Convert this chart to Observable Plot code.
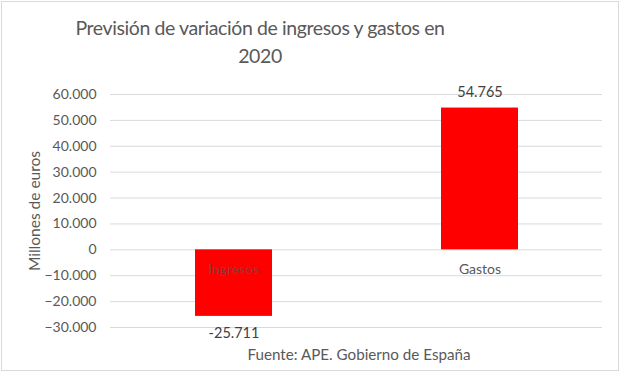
<!DOCTYPE html>
<html>
<head>
<meta charset="utf-8">
<script src="https://cdn.jsdelivr.net/npm/d3@7"></script>
<script src="https://cdn.jsdelivr.net/npm/@observablehq/plot@0.6"></script>
<style>
  html, body { margin: 0; padding: 0; background: #fff; }
  #frame { position: relative; width: 624px; height: 374px; overflow: hidden; background: #fff; }
  #border { position: absolute; left: 1px; top: 1px; width: 618px; height: 370px; border: 1px solid #d9d9d9; box-sizing: border-box; }
  #title { position: absolute; left: 60px; width: 400px; top: 14px; text-align: center; font-family: Lato, "Open Sans", sans-serif; font-size: 19.5px; letter-spacing: -0.4px; line-height: 28px; color: #595959; }
  #chart { position: absolute; left: 0; top: 75px; }
  #caption { position: absolute; left: 0; width: 718px; top: 345px; text-align: center; font-family: Lato, "Open Sans", sans-serif; font-size: 15.2px; line-height: 18px; color: #595959; }
</style>
</head>
<body>
<div id="frame">
  <div id="border"></div>
  <div id="title">Previsión de variación de ingresos y gastos en<br>2020</div>
  <div id="chart"></div>
  <div id="caption">Fuente: APE. Gobierno de España</div>
</div>
<script>
const categories = ["Ingresos", "Gastos"];
const values = [-25711, 54765];
const valueLabels = ["-25.711", "54.765"];
const yTicks = [-30000, -20000, -10000, 0, 10000, 20000, 30000, 40000, 50000, 60000];
const yLabel = "Millones de euros";

const locale = d3.formatLocale({decimal: ",", thousands: ".", grouping: [3], currency: ["", " €"]});
const fmt = locale.format(",d");

const rows = categories.map((c, i) => ({category: c, value: values[i], label: valueLabels[i]}));
const FONT = 'Lato, "Open Sans", sans-serif';

const chart = Plot.plot({
  width: 624,
  height: 270,
  marginLeft: 110,
  marginRight: 22,
  marginTop: 19,
  marginBottom: 18,
  style: {fontFamily: FONT, fontSize: "13px", color: "#595959", background: "transparent"},
  x: {domain: categories, paddingInner: 0.687, paddingOuter: 0.3435, axis: null},
  y: {domain: [-30000, 60000], ticks: yTicks, tickFormat: d => fmt(d)},
  marks: [
    Plot.gridY(yTicks, {stroke: "#d9d9d9", strokeOpacity: 1, strokeWidth: 1}),
    Plot.axisY(yTicks, {tickSize: 0, tickPadding: 14, tickFormat: d => fmt(d), fill: "#595959", fontSize: 14, label: null}),
    Plot.text(categories, {x: d => d, y: () => 0, text: d => d, dy: 20, fill: "#595959", fontSize: 14}),
    Plot.barY(rows, {x: "category", y: "value", fill: "#ff0000"}),
    Plot.text(rows.filter(d => d.category === "Ingresos"), {x: "category", y: () => 0, text: "category", dy: 20, fill: "#595959", fillOpacity: 0.65, fontSize: 14}),
    Plot.text(rows.filter(d => d.value >= 0), {x: "category", y: "value", text: "label", dy: -16, fill: "#404040", fontSize: 14.5}),
    Plot.text(rows.filter(d => d.value < 0), {x: "category", y: "value", text: "label", dy: 17, fill: "#404040", fontSize: 14.5}),
    Plot.text([yLabel], {frameAnchor: "left", textAnchor: "middle", text: d => d, rotate: -90, dx: -75, fill: "#595959", fontSize: 15.5})
  ]
});
document.getElementById("chart").appendChild(chart);
</script>
</body>
</html>
